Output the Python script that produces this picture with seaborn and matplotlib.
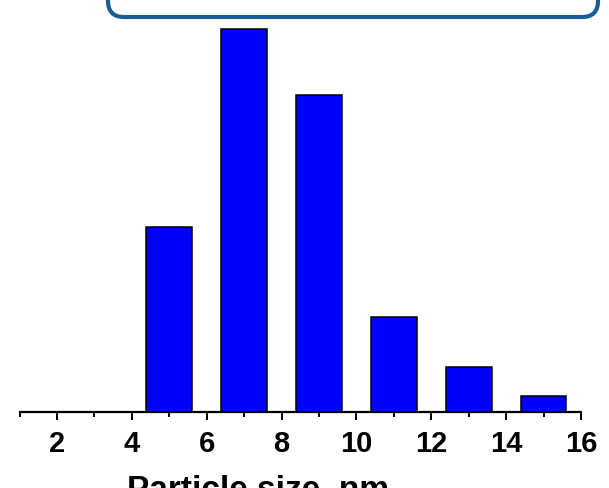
import matplotlib
matplotlib.use("Agg")
import matplotlib.pyplot as plt
import seaborn as sns
from matplotlib.patches import FancyBboxPatch
from matplotlib.ticker import MultipleLocator
from matplotlib.transforms import IdentityTransform

# Particle size distribution (share of particles, %)
sizes = [5, 7, 9, 11, 13, 15]
shares = [17.8, 36.8, 30.5, 9.1, 4.3, 1.5]
x_ticks = [2, 4, 6, 8, 10, 12, 14, 16]

sns.set_style("white")
plt.rcParams["font.family"] = ["Liberation Sans", "DejaVu Sans"]
plt.rcParams["text.color"] = "black"
plt.rcParams["xtick.color"] = "black"

fig = plt.figure(figsize=(6.09, 4.88), dpi=100)
ax = fig.add_axes([19.5 / 609, 76 / 488, 561.5 / 609, 392 / 488])

sns.barplot(
    x=sizes,
    y=shares,
    native_scale=True,
    width=0.61,
    color="#0000FF",
    saturation=1,
    edgecolor="black",
    linewidth=1.1,
    ax=ax,
)

ax.set_xlim(1, 16)
ax.set_ylim(0, 37.7)
ax.set_xticks(x_ticks)
ax.set_xticklabels([str(t) for t in x_ticks], fontsize=21, fontweight="bold",
                   color="black")
ax.xaxis.set_minor_locator(MultipleLocator(1))
ax.tick_params(axis="x", which="major", direction="out", length=5.5, width=1.4,
               pad=7.5, bottom=True, colors="black")
ax.tick_params(axis="x", which="minor", direction="out", length=3.3, width=1.4,
               bottom=True, colors="black")
ax.set_yticks([])

for side in ["left", "right", "top"]:
    ax.spines[side].set_visible(False)
ax.spines["bottom"].set_linewidth(1.6)
ax.spines["bottom"].set_color("black")

ax.set_xlabel("Particle size, nm", fontsize=24, fontweight="bold", color="black")
ax.xaxis.set_label_coords(0.424, -0.161)
ax.set_ylabel("")

# rounded frame of the panel above, cut by the top edge
box = FancyBboxPatch(
    (108, 488 - 17), 490, 120,
    boxstyle="round,pad=0,rounding_size=16",
    transform=IdentityTransform(),
    facecolor="none",
    edgecolor="#1b5c96",
    linewidth=3,
)
fig.add_artist(box)

fig.savefig("out.png", dpi=100)
